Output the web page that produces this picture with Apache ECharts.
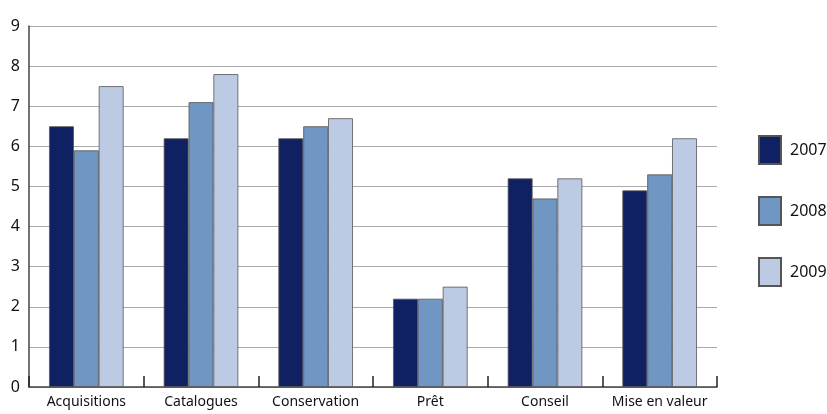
<!DOCTYPE html>
<html><head><meta charset="utf-8">
<script src="https://cdn.jsdelivr.net/npm/echarts@6/dist/echarts.min.js"></script>
<style>html,body{margin:0;padding:0;background:#fff}#c{width:827px;height:414px}</style>
</head><body><div id="c"></div>
<script>
const categories = ['Acquisitions','Catalogues','Conservation','Prêt','Conseil','Mise en valeur'];
const years = ['2007','2008','2009'];
const v2007 = [6.5, 6.2, 6.2, 2.2, 5.2, 4.9];
const v2008 = [5.9, 7.1, 6.5, 2.2, 4.7, 5.3];
const v2009 = [7.5, 7.8, 6.7, 2.5, 5.2, 6.2];
const yTicks = [0,1,2,3,4,5,6,7,8,9];
const colors = ['#0f2163', '#7096c4', '#bccbe3'];
const values = [v2007, v2008, v2009];
const font = '"Noto Sans", "Open Sans", sans-serif';
const chart = echarts.init(document.getElementById('c'));
chart.setOption({
  animation: false,
  grid: {left: 29, right: 110, top: 26, bottom: 27},
  legend: {
    orient: 'vertical', left: 758, top: 135, padding: 0, itemWidth: 22, itemHeight: 28, itemGap: 31,
    icon: 'rect',
    textStyle: {fontFamily: font, fontSize: 16, color: '#111', padding: [0, 0, 0, 4]},
    data: years
  },
  xAxis: {
    type: 'category', data: categories,
    axisLine: {lineStyle: {color: '#444', width: 1.5}},
    axisTick: {show: true, inside: true, length: 11, interval: 0, lineStyle: {color: '#222', width: 1.5}},
    axisLabel: {fontFamily: font, fontSize: 14, color: '#111', margin: 8, interval: 0}
  },
  yAxis: {
    type: 'value', min: 0, max: 9, interval: 1,
    axisLine: {show: true, lineStyle: {color: '#444', width: 1.5}},
    axisTick: {show: false},
    axisLabel: {fontFamily: font, fontSize: 16, color: '#111', margin: 9,
      formatter: v => yTicks.includes(v) ? String(v) : ''},
    splitLine: {lineStyle: {color: '#aaaaaa', width: 1}}
  },
  series: years.map((y, i) => ({
    name: y, type: 'bar', data: values[i],
    barGap: '0%', barCategoryGap: '35%',
    itemStyle: {color: colors[i], borderColor: '#555', borderWidth: 0.8}
  }))
});
</script></body></html>
